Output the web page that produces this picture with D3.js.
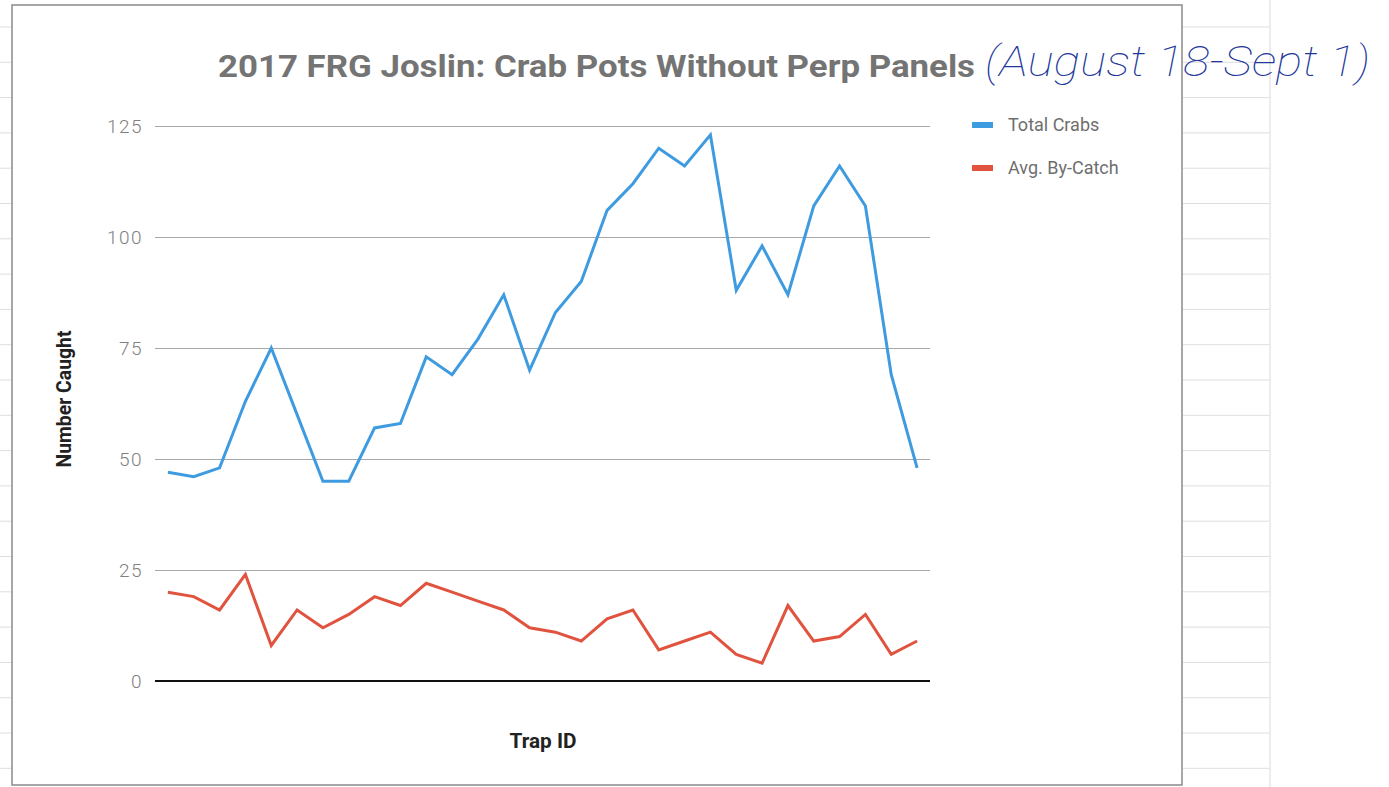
<!DOCTYPE html>
<html>
<head>
<meta charset="utf-8">
<script src="https://cdn.jsdelivr.net/npm/d3@7"></script>
<style>
  html, body { margin: 0; padding: 0; background: #ffffff; }
  svg { display: block; }
</style>
</head>
<body>
<svg id="chart" width="1389" height="787"></svg>
<script>
// ---- data ----
const trapIds = [1,2,3,4,5,6,7,8,9,10,11,12,13,14,15,16,17,18,19,20,21,22,23,24,25,26,27,28,29,30];
const totalCrabs = [47,46,48,63,75,60,45,45,57,58,73,69,77,87,70,83,90,106,112,120,116,123,88,98,87,107,116,107,69,48];
const avgByCatch = [20,19,16,24,8,16,12,15,19,17,22,20,18,16,12,11,9,14,16,7,9,11,6,4,17,9,10,15,6,9];
const yTicks = [0,25,50,75,100,125];
const seriesNames = ["Total Crabs", "Avg. By-Catch"];
const seriesColors = ["#3f9be0", "#e0533f"];
const titleText = "2017 FRG Joslin: Crab Pots Without Perp Panels";
const noteText = "(August 18-Sept 1)";

const svg = d3.select("#chart");

// ---- lined paper background ----
const paperLines = d3.range(0, 22);
const paper = svg.append("g");
paper.selectAll("line.l").data(paperLines).join("line")
  .attr("x1", 0).attr("x2", 12)
  .attr("y1", d => 27 + d * 35.3).attr("y2", d => 27 + d * 35.3)
  .attr("stroke", "#dedede").attr("stroke-width", 1);
paper.selectAll("line.r").data(paperLines).join("line")
  .attr("x1", 1183).attr("x2", 1270)
  .attr("y1", d => 27 + d * 35.3).attr("y2", d => 27 + d * 35.3)
  .attr("stroke", "#dedede").attr("stroke-width", 1);
paper.append("line").attr("x1", 1270).attr("x2", 1270).attr("y1", 0).attr("y2", 787)
  .attr("stroke", "#e6e6e6").attr("stroke-width", 1.5);

// chart frame
svg.append("rect").attr("x", 12).attr("y", 5).attr("width", 1170).attr("height", 780)
  .attr("fill", "#ffffff").attr("stroke", "#8a8a8a").attr("stroke-width", 1.5);

// ---- scales ----
const plot = { left: 155, right: 930, top: 126, bottom: 681 };
const x = d3.scalePoint().domain(trapIds).range([plot.left, plot.right]).padding(0.5);
const y = d3.scaleLinear().domain([0, 125]).range([plot.bottom, plot.top]);

// gridlines + tick labels
const yAxis = d3.axisLeft(y).tickValues(yTicks).tickSize(-(plot.right - plot.left)).tickPadding(12);
const gy = svg.append("g").attr("transform", `translate(${plot.left},0)`).call(yAxis);
gy.select(".domain").remove();
gy.selectAll(".tick line").attr("stroke", "#a8a8a8").attr("stroke-width", 1.2);
gy.selectAll(".tick text")
  .attr("fill", "#808080")
  .style("font-family", "Roboto, 'Open Sans', sans-serif")
  .style("font-weight", 300)
  .style("font-size", "19px")
  .style("letter-spacing", "1.5px");

// baseline at zero
svg.append("line").attr("x1", plot.left).attr("x2", plot.right)
  .attr("y1", y(0)).attr("y2", y(0)).attr("stroke", "#111").attr("stroke-width", 2);

// ---- lines ----
const line = d3.line().x((d, i) => x(trapIds[i])).y(d => y(d));
[totalCrabs, avgByCatch].forEach((s, k) => {
  svg.append("path").datum(s).attr("d", line)
    .attr("fill", "none").attr("stroke", seriesColors[k])
    .attr("stroke-width", 3).attr("stroke-linejoin", "miter");
});

// ---- title ----
svg.append("text").attr("x", 218).attr("y", 77).text(titleText)
  .attr("textLength", 757).attr("lengthAdjust", "spacingAndGlyphs")
  .attr("fill", "#747474")
  .style("font-family", "Roboto, Arial, sans-serif").style("font-weight", 700).style("font-size", "32px");

// handwritten note
svg.append("text").attr("x", 985).attr("y", 76).text(noteText)
  .attr("textLength", 385).attr("lengthAdjust", "spacingAndGlyphs")
  .attr("fill", "#22379a")
  .style("font-family", "Roboto, sans-serif").style("font-style", "italic")
  .style("font-weight", 100).style("font-size", "42px");

// ---- axis titles ----
svg.append("text").attr("x", 543).attr("y", 748).attr("text-anchor", "middle").text("Trap ID")
  .attr("textLength", 67).attr("lengthAdjust", "spacingAndGlyphs")
  .attr("fill", "#222")
  .style("font-family", "Roboto, Arial, sans-serif").style("font-weight", 700).style("font-size", "21px");

svg.append("text").attr("transform", "translate(71,399) rotate(-90)").attr("text-anchor", "middle")
  .text("Number Caught")
  .attr("textLength", 137).attr("lengthAdjust", "spacingAndGlyphs")
  .attr("fill", "#222")
  .style("font-family", "Roboto, Arial, sans-serif").style("font-weight", 700).style("font-size", "21px");

// ---- legend ----
const legend = svg.append("g");
seriesNames.forEach((name, k) => {
  const ly = 125 + k * 43;
  legend.append("rect").attr("x", 972).attr("y", ly - 3).attr("width", 21).attr("height", 6)
    .attr("fill", seriesColors[k]);
  legend.append("text").attr("x", 1008).attr("y", ly + 6).text(name)
    .attr("fill", "#6e6e6e")
    .style("font-family", "Roboto, Arial, sans-serif").style("font-weight", 400).style("font-size", "18px");
});
</script>
</body>
</html>
